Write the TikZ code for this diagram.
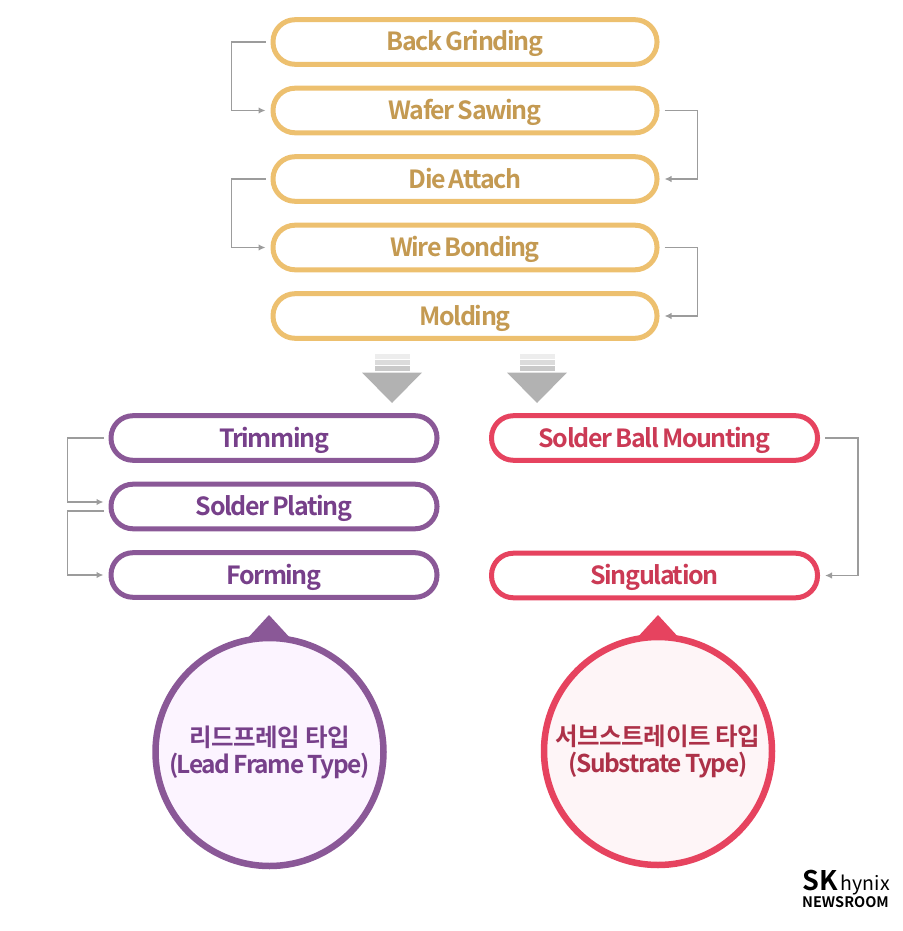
\documentclass[tikz,border=0pt]{standalone}
\usepackage{fontspec}
\setmainfont{Noto Sans CJK KR}[BoldFont=* Bold,LetterSpace=-5.6,WordSpace=0.75]
\newfontfamily\hangulfont{Noto Sans CJK KR}[BoldFont=* Bold,LetterSpace=-2]
\newfontfamily\logofont{Noto Sans CJK KR}[BoldFont=* Bold]
\usetikzlibrary{arrows.meta, positioning}
\definecolor{goldline}{HTML}{EDC06F}
\definecolor{goldtext}{HTML}{C49A52}
\definecolor{purpleline}{HTML}{8A5897}
\definecolor{purpletext}{HTML}{77408A}
\definecolor{purplefill}{HTML}{FCF4FF}
\definecolor{redline}{HTML}{E6435F}
\definecolor{redtext}{HTML}{CB3A55}
\definecolor{redfill}{HTML}{FEF5F7}
\definecolor{linkgray}{HTML}{9C9C9C}
\tikzset{
  pill/.style={draw, fill=white, line width=5pt, rounded corners=22pt, minimum height=44.6pt,
    inner sep=0pt, text height=18pt, text depth=0pt, font=\fontsize{25}{25}\selectfont\bfseries},
  goldpill/.style={pill, draw=goldline, text=goldtext, minimum width=384pt},
  purplepill/.style={pill, draw=purpleline, text=purpletext, minimum width=326pt},
  redpill/.style={pill, draw=redline, text=redtext, minimum width=326pt},
  typecircle/.style={circle, line width=6.5pt, minimum size=228pt, inner sep=0pt, align=center,
    font=\fontsize{24.5}{27}\selectfont\bfseries},
  link/.style={draw=linkgray, line width=1.5pt, shorten <=5pt, shorten >=5pt,
    -{Latex[length=7pt,width=6.5pt]}},
  bar/.style={minimum width=35pt, inner sep=0pt}
}
\begin{document}
\begin{tikzpicture}[x=1pt,y=-1pt,node distance=68.5pt]
    \useasboundingbox (0,0) rectangle (902,931);

    % upper chain
    \node[goldpill] (grinding) at (465,42) {Back Grinding};
    \node[goldpill, below of=grinding] (sawing) {Wafer Sawing};
    \node[goldpill, below of=sawing] (attach) {Die Attach};
    \node[goldpill, below of=attach] (bonding) {Wire Bonding};
    \node[goldpill, below of=bonding] (molding) {Molding};

    \draw[link] (grinding.west) -- ++(-39,0) |- (sawing.west);
    \draw[link] (sawing.east) -- ++(38,0) |- (attach.east);
    \draw[link] (attach.west) -- ++(-39,0) |- (bonding.west);
    \draw[link] (bonding.east) -- ++(38,0) |- (molding.east);

    % big arrows
    \foreach \name/\xpos in {left/392,right/537} {
        \node[bar, fill=black!7, minimum height=4.5pt] (\name a) at (\xpos,356.5) {};
        \node[bar, fill=black!14, minimum height=5pt] (\name b) at (\xpos,362.5) {};
        \node[bar, fill=black!21, minimum height=5pt] (\name c) at (\xpos,368.5) {};
        \fill[black!30] (\xpos-30,372.5) -- (\xpos+30,372.5) -- (\xpos,403) -- cycle;
    }

    % lead frame side
    \node[purplepill] (trimming) at (274,438) {Trimming};
    \node[purplepill, below of=trimming] (plating) {Solder Plating};
    \node[purplepill, below of=plating] (forming) {Forming};

    \draw[link] (trimming.west) -- ++(-41,0) |- ([yshift=4.5pt]plating.west);
    \draw[link] ([yshift=-4.5pt]plating.west) -- ++(-41,0) |- (forming.west);

    % substrate side
    \node[redpill] (mounting) at (654.5,438) {Solder Ball Mounting};
    \node[redpill] (singulation) at (654.5,575.5) {Singulation};

    \draw[link] (mounting.east) -- ++(38,0) |- (singulation.east);

    % type circles
    \fill[purpleline] (269,615) -- (292,640) -- (246,640) -- cycle;
    \fill[redline] (658,615) -- (681,640) -- (635,640) -- cycle;
    \node[typecircle, draw=purpleline, fill=purplefill, text=purpletext] (leadframe) at (269.5,752)
        {{\hangulfont 리드프레임 타입}\\(Lead Frame Type)};
    \node[typecircle, draw=redline, fill=redfill, text=redtext!85!black] (substrate) at (658,751)
        {{\hangulfont 서브스트레이트 타입}\\(Substrate Type)};

    % logo
    \node[inner sep=0pt, anchor=base west, font=\logofont\fontsize{27}{27}\selectfont\bfseries] (logosk) at (802,890) {SK};
    \node[inner sep=0pt, font=\logofont\fontsize{19.5}{19.5}\selectfont, right=3pt of logosk.base east, anchor=base west] (logohynix) {hynix};
    \node[inner sep=0pt, anchor=base west, font=\logofont\fontsize{14.5}{14.5}\selectfont\bfseries] (logonews) at (802,907) {NEWSROOM};
\end{tikzpicture}
\end{document}
